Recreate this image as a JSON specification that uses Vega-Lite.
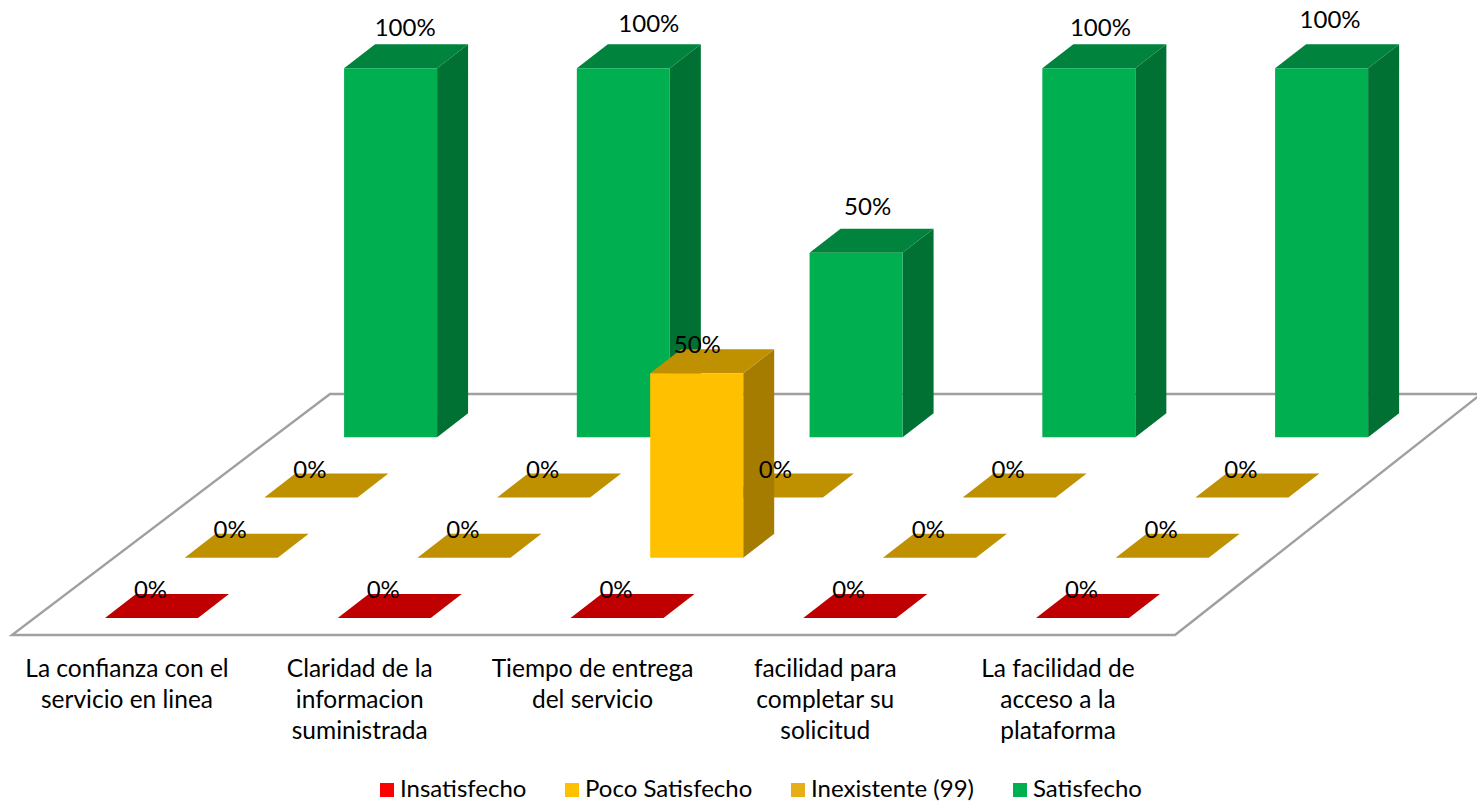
{"$schema":"https://vega.github.io/schema/vega-lite/v6.json","width":1477,"height":805,"autosize":{"type":"none"},"padding":0,"background":"white","config":{"view":{"stroke":null},"text":{"font":"Lato"}},
"layer":[
{"data":{"values":[{"t":0},{"t":1}]},"transform":[{"calculate":"datum.t==0?-0.3996:0.9667","as":"fl"},{"calculate":"datum.t==0?4.5973:5.9123","as":"fr"},{"calculate":"datum.t==0?-4.6:60.7","as":"fy"}],
"mark":{"type":"area","orient":"horizontal","fill":"white","stroke":"#a0a0a0","strokeWidth":2.4},
"encoding":{"x":{"field":"fl","type":"quantitative","axis":null,"scale":{"domain":[-0.4511,5.8947],"nice":false,"zero":false}},"x2":{"field":"fr"},"y":{"field":"fy","type":"quantitative","axis":null,"scale":{"domain":[-50.68,167.48],"nice":false,"zero":false}}}},
{"data":{"values":[
{"category":"La confianza con el\nservicio en linea","series":"Satisfecho","value":100},
{"category":"Claridad de la\ninformacion\nsuministrada","series":"Satisfecho","value":100},
{"category":"Tiempo de entrega\ndel servicio","series":"Satisfecho","value":50},
{"category":"facilidad para\ncompletar su\nsolicitud","series":"Satisfecho","value":100},
{"category":"La facilidad de\nacceso a la\nplataforma","series":"Satisfecho","value":100},
{"category":"La confianza con el\nservicio en linea","series":"Inexistente (99)","value":0},
{"category":"Claridad de la\ninformacion\nsuministrada","series":"Inexistente (99)","value":0},
{"category":"Tiempo de entrega\ndel servicio","series":"Inexistente (99)","value":0},
{"category":"facilidad para\ncompletar su\nsolicitud","series":"Inexistente (99)","value":0},
{"category":"La facilidad de\nacceso a la\nplataforma","series":"Inexistente (99)","value":0},
{"category":"La confianza con el\nservicio en linea","series":"Poco Satisfecho","value":0},
{"category":"Claridad de la\ninformacion\nsuministrada","series":"Poco Satisfecho","value":0},
{"category":"Tiempo de entrega\ndel servicio","series":"Poco Satisfecho","value":50},
{"category":"facilidad para\ncompletar su\nsolicitud","series":"Poco Satisfecho","value":0},
{"category":"La facilidad de\nacceso a la\nplataforma","series":"Poco Satisfecho","value":0},
{"category":"La confianza con el\nservicio en linea","series":"Insatisfecho","value":0},
{"category":"Claridad de la\ninformacion\nsuministrada","series":"Insatisfecho","value":0},
{"category":"Tiempo de entrega\ndel servicio","series":"Insatisfecho","value":0},
{"category":"facilidad para\ncompletar su\nsolicitud","series":"Insatisfecho","value":0},
{"category":"La facilidad de\nacceso a la\nplataforma","series":"Insatisfecho","value":0}
]},
"transform":[
{"window":[{"op":"row_number","as":"n"}],"groupby":["series"]},
{"calculate":"datum.n-1","as":"i"},
{"calculate":"indexof(['Insatisfecho','Poco Satisfecho','Inexistente (99)','Satisfecho'],datum.series)","as":"s"},
{"calculate":"datum.i+0.3424*datum.s","as":"left"},
{"calculate":"datum.left+0.3996","as":"right"},
{"calculate":"16.33*datum.s","as":"base"},
{"calculate":"datum.base+datum.value","as":"top"},
{"calculate":"datum.s+'-'+datum.i","as":"id"},
{"calculate":"datum.value+'%'","as":"label"},
{"calculate":"datum.left+0.2664+(datum.value==0?-0.071:datum.s==1?-0.064:datum.i==0?-0.004:datum.i==1?0.043:datum.i==2?-0.017:datum.i==3?-0.017:-0.03)","as":"lx"},
{"calculate":"datum.top+(datum.value==0?7.3:datum.s==1?7.3:datum.i==0?10.6:datum.i==1?11.7:datum.i==2?12.0:datum.i==3?10.6:12.8)","as":"ly"},
{"calculate":"datum.i+0.0945","as":"cx"}
],
"layer":[
{"transform":[{"filter":"datum.s==3"},{"calculate":"[0,1]","as":"t"},{"flatten":["t"]},{"calculate":"datum.right+datum.t*0.1332","as":"px"},{"calculate":"datum.top+datum.t*6.5","as":"py"},{"calculate":"datum.base+datum.t*6.5","as":"py2"}],
"mark":{"type":"area","orient":"vertical","color":"#007033"},
"encoding":{"detail":{"field":"id"},"x":{"field":"px","type":"quantitative","axis":null,"scale":{"domain":[-0.4511,5.8947],"nice":false,"zero":false}},"y":{"field":"py","type":"quantitative","axis":null,"scale":{"domain":[-50.68,167.48],"nice":false,"zero":false}},"y2":{"field":"py2"}}},
{"transform":[{"filter":"datum.s==3"},{"calculate":"[0,1]","as":"t"},{"flatten":["t"]},{"calculate":"datum.left+datum.t*0.1332","as":"px"},{"calculate":"datum.right+datum.t*0.1332","as":"px2"},{"calculate":"datum.top+datum.t*6.5","as":"py"}],
"mark":{"type":"area","orient":"horizontal","color":"#00843d"},
"encoding":{"detail":{"field":"id"},"x":{"field":"px","type":"quantitative","axis":null,"scale":{"domain":[-0.4511,5.8947],"nice":false,"zero":false}},"x2":{"field":"px2"},"y":{"field":"py","type":"quantitative","axis":null,"scale":{"domain":[-50.68,167.48],"nice":false,"zero":false}}}},
{"transform":[{"filter":"datum.s==3"}],
"mark":{"type":"rect"},
"encoding":{"x":{"field":"left","type":"quantitative","axis":null,"scale":{"domain":[-0.4511,5.8947],"nice":false,"zero":false}},"x2":{"field":"right"},"y":{"field":"top","type":"quantitative","axis":null,"scale":{"domain":[-50.68,167.48],"nice":false,"zero":false}},"y2":{"field":"base"},
"color":{"field":"series","type":"nominal","scale":{"domain":["Insatisfecho","Poco Satisfecho","Inexistente (99)","Satisfecho"],"range":["#ff0000","#ffc000","#e6ae17","#00b050"]},
"legend":{"title":null,"orient":"none","legendX":375,"legendY":778,"direction":"horizontal","columns":4,"symbolType":"square","symbolSize":196,"symbolStrokeWidth":0,"labelFont":"Lato","labelFontSize":24,"labelColor":"#000000","labelOffset":1,"columnPadding":33,"labelLimit":400,"symbolOpacity":1}}}},
{"transform":[{"filter":"datum.value==0&&datum.s==2"},{"calculate":"[0,1]","as":"t"},{"flatten":["t"]},{"calculate":"datum.left+datum.t*0.1332","as":"px"},{"calculate":"datum.right+datum.t*0.1332","as":"px2"},{"calculate":"datum.top+datum.t*6.5","as":"py"}],
"mark":{"type":"area","orient":"horizontal","color":"#bf9000"},
"encoding":{"detail":{"field":"id"},"x":{"field":"px","type":"quantitative","axis":null,"scale":{"domain":[-0.4511,5.8947],"nice":false,"zero":false}},"x2":{"field":"px2"},"y":{"field":"py","type":"quantitative","axis":null,"scale":{"domain":[-50.68,167.48],"nice":false,"zero":false}}}},
{"transform":[{"filter":"datum.value==0&&datum.s==1"},{"calculate":"[0,1]","as":"t"},{"flatten":["t"]},{"calculate":"datum.left+datum.t*0.1332","as":"px"},{"calculate":"datum.right+datum.t*0.1332","as":"px2"},{"calculate":"datum.top+datum.t*6.5","as":"py"}],
"mark":{"type":"area","orient":"horizontal","color":"#bf9000"},
"encoding":{"detail":{"field":"id"},"x":{"field":"px","type":"quantitative","axis":null,"scale":{"domain":[-0.4511,5.8947],"nice":false,"zero":false}},"x2":{"field":"px2"},"y":{"field":"py","type":"quantitative","axis":null,"scale":{"domain":[-50.68,167.48],"nice":false,"zero":false}}}},
{"transform":[{"filter":"datum.value==0&&datum.s==0"},{"calculate":"[0,1]","as":"t"},{"flatten":["t"]},{"calculate":"datum.left+datum.t*0.1332","as":"px"},{"calculate":"datum.right+datum.t*0.1332","as":"px2"},{"calculate":"datum.top+datum.t*6.5","as":"py"}],
"mark":{"type":"area","orient":"horizontal","color":"#c00000"},
"encoding":{"detail":{"field":"id"},"x":{"field":"px","type":"quantitative","axis":null,"scale":{"domain":[-0.4511,5.8947],"nice":false,"zero":false}},"x2":{"field":"px2"},"y":{"field":"py","type":"quantitative","axis":null,"scale":{"domain":[-50.68,167.48],"nice":false,"zero":false}}}},
{"transform":[{"filter":"datum.s==1&&datum.value>0"},{"calculate":"[0,1]","as":"t"},{"flatten":["t"]},{"calculate":"datum.right+datum.t*0.1332","as":"px"},{"calculate":"datum.top+datum.t*6.5","as":"py"},{"calculate":"datum.base+datum.t*6.5","as":"py2"}],
"mark":{"type":"area","orient":"vertical","color":"#a67c00"},
"encoding":{"detail":{"field":"id"},"x":{"field":"px","type":"quantitative","axis":null,"scale":{"domain":[-0.4511,5.8947],"nice":false,"zero":false}},"y":{"field":"py","type":"quantitative","axis":null,"scale":{"domain":[-50.68,167.48],"nice":false,"zero":false}},"y2":{"field":"py2"}}},
{"transform":[{"filter":"datum.s==1&&datum.value>0"},{"calculate":"[0,1]","as":"t"},{"flatten":["t"]},{"calculate":"datum.left+datum.t*0.1332","as":"px"},{"calculate":"datum.right+datum.t*0.1332","as":"px2"},{"calculate":"datum.top+datum.t*6.5","as":"py"}],
"mark":{"type":"area","orient":"horizontal","color":"#bf9000"},
"encoding":{"detail":{"field":"id"},"x":{"field":"px","type":"quantitative","axis":null,"scale":{"domain":[-0.4511,5.8947],"nice":false,"zero":false}},"x2":{"field":"px2"},"y":{"field":"py","type":"quantitative","axis":null,"scale":{"domain":[-50.68,167.48],"nice":false,"zero":false}}}},
{"transform":[{"filter":"datum.s==1&&datum.value>0"}],
"mark":{"type":"rect","color":"#ffc000"},
"encoding":{"x":{"field":"left","type":"quantitative","axis":null,"scale":{"domain":[-0.4511,5.8947],"nice":false,"zero":false}},"x2":{"field":"right"},"y":{"field":"top","type":"quantitative","axis":null,"scale":{"domain":[-50.68,167.48],"nice":false,"zero":false}},"y2":{"field":"base"}}},
{"mark":{"type":"text","font":"Lato","fontSize":24,"align":"center","baseline":"middle","color":"#000000"},
"encoding":{"x":{"field":"lx","type":"quantitative","axis":null,"scale":{"domain":[-0.4511,5.8947],"nice":false,"zero":false}},"y":{"field":"ly","type":"quantitative","axis":null,"scale":{"domain":[-50.68,167.48],"nice":false,"zero":false}},"text":{"field":"label"}}},
{"transform":[{"filter":"datum.s==0"}],
"mark":{"type":"text","font":"Lato","fontSize":24.5,"align":"center","baseline":"top","lineBreak":"\n","lineHeight":31,"color":"#000000"},
"encoding":{"x":{"field":"cx","type":"quantitative","axis":null,"scale":{"domain":[-0.4511,5.8947],"nice":false,"zero":false}},"y":{"datum":-10.9,"type":"quantitative","axis":null,"scale":{"domain":[-50.68,167.48],"nice":false,"zero":false}},"text":{"field":"category"}}}
]}
]}
